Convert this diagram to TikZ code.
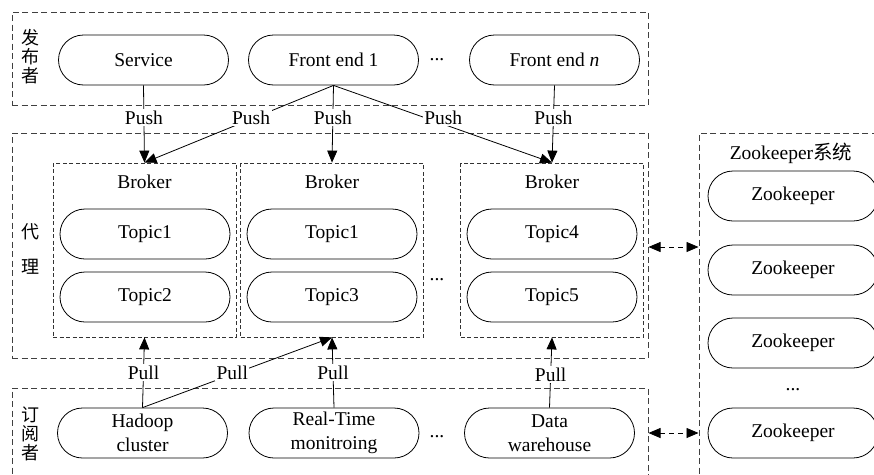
\documentclass[tikz,border=0pt]{standalone}
\usepackage{fontspec}
\setmainfont{Liberation Serif}
\newfontfamily\cjk{Noto Sans CJK SC}
\usetikzlibrary{arrows.meta}
\begin{document}
\begin{tikzpicture}[x=1pt,y=-1pt,
  txt/.style={font=\fontsize{19.5}{24}\selectfont, inner sep=0pt},
  pill/.style={txt, draw, line width=0.8pt, rounded corners=25pt, minimum width=170pt, minimum height=50pt, align=center},
  layer/.style={draw=black!75, line width=1pt, dash pattern=on 6pt off 3.5pt, minimum width=636pt},
  brokerbox/.style={draw=black!80, line width=0.8pt, dash pattern=on 4pt off 2.5pt, minimum width=183pt, minimum height=174pt},
  cjkl/.style={font=\cjk\fontsize{18}{19}\selectfont, inner sep=0pt, align=center},
  lbl/.style={txt, fill=white, inner sep=1.5pt},
  arr/.style={-{Triangle[length=12pt,width=10pt]}, line width=0.8pt},
  darr/.style={{Triangle[length=12pt,width=10pt]}-{Triangle[length=12pt,width=10pt]}, line width=0.8pt, dash pattern=on 5pt off 4pt}
]
\useasboundingbox (0,0) rectangle (874,474);
\clip (0,0) rectangle (874,474);
\fill[white] (0,0) rectangle (874,474);

% layers
\node[layer, minimum height=93pt] (pub) at (330,58.5) {};
\node[layer, minimum height=225pt] (bl) at (330,245.5) {};
\node[layer, minimum height=102pt] (sub) at (330,439) {};
\node[layer, minimum width=191pt, minimum height=357pt] (zk) at (794.5,311.5) {};

% side labels
\node[cjkl] (lpub) at (30,57) {发\\布\\者};
\node[cjkl] (ld1) at (30,232) {代};
\node[cjkl] (ld2) at (30,267) {理};
\node[cjkl] (lsub) at (30,434) {订\\阅\\者};

% publishers
\node[pill] (svc) at (143.5,60) {Service};
\node[pill] (fe1) at (333.5,60) {Front end 1};
\node[txt] (d1) at (437,60) {...};
\node[pill] (fen) at (554.5,60) {Front end \textit{n}};

% brokers
\node[brokerbox] (b1) at (144.5,250) {};
\node[brokerbox] (b2) at (332,250) {};
\node[brokerbox] (b3) at (552,250) {};
\node[txt] (bt1) at (144.5,182) {Broker};
\node[txt] (bt2) at (332,182) {Broker};
\node[txt] (bt3) at (552,182) {Broker};
\node[pill] (t11) at (145,234) {Topic1};
\node[pill] (t12) at (145,297) {Topic2};
\node[pill] (t21) at (332,234) {Topic1};
\node[pill] (t23) at (332,297) {Topic3};
\node[pill] (t34) at (552,234) {Topic4};
\node[pill] (t35) at (552,297) {Topic5};
\node[txt] (d2) at (437,280) {...};

% subscribers
\node[pill] (had) at (142.5,433) {Hadoop\\cluster};
\node[pill] (rt) at (334,433) {Real-Time\\monitroing};
\node[txt] (d3) at (437,437) {...};
\node[pill] (dw) at (549.5,433) {Data\\warehouse};

% zookeeper
\node[txt] (zkt) at (791,153) {Zookeeper{\cjk 系统}};
\node[pill] (z1) at (793,196) {Zookeeper};
\node[pill] (z2) at (793,270) {Zookeeper};
\node[pill] (z3) at (793,343) {Zookeeper};
\node[txt] (d4) at (793,390) {...};
\node[pill] (z4) at (793,433) {Zookeeper};

% push
\draw[arr] (svc.south) -- node[lbl,pos=0.42]{Push} (b1.north);
\draw[arr] (fe1.south) -- node[lbl,pos=0.42,xshift=-3pt]{Push} (b1.north);
\draw[arr] (fe1.south) -- node[lbl,pos=0.42]{Push} (b2.north);
\draw[arr] (fe1.south) -- node[lbl,pos=0.42,xshift=18pt]{Push} (b3.north);
\draw[arr] (fen.south) -- node[lbl,pos=0.42]{Push} (b3.north);

% pull
\draw[arr] (had.north) -- node[lbl,pos=0.5]{Pull} (b1.south);
\draw[arr] (had.north) -- node[lbl,pos=0.5,xshift=-5pt]{Pull} (b2.south);
\draw[arr] (rt.north) -- node[lbl,pos=0.5]{Pull} (b2.south);
\draw[arr] (dw.north) -- node[lbl,pos=0.47]{Pull} (b3.south);

% zookeeper links
\coordinate (ya) at (0,247);
\coordinate (yb) at (0,433);
\draw[darr] (bl.east |- ya) -- (zk.west |- ya);
\draw[darr] (sub.east |- yb) -- (zk.west |- yb);
\end{tikzpicture}
\end{document}
